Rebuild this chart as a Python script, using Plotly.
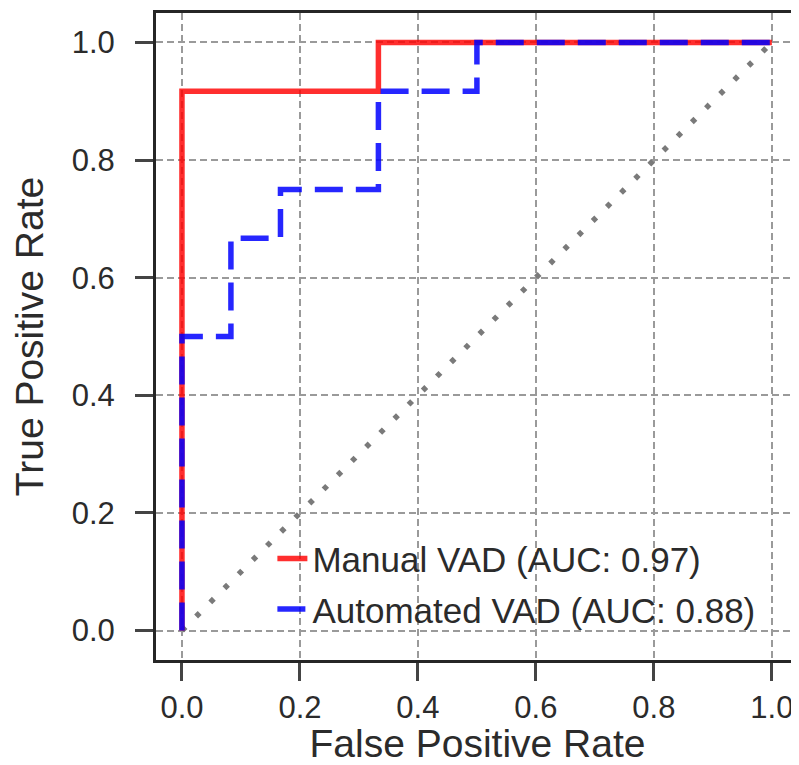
import plotly.graph_objects as go

# Manual VAD ROC curve
manual_fpr = [0.0, 0.0, 0.333, 0.333, 1.0]
manual_tpr = [0.0, 0.917, 0.917, 1.0, 1.0]

# Automated VAD ROC curve
auto_fpr = [0.0, 0.0, 0.083, 0.083, 0.167, 0.167, 0.333, 0.333, 0.5, 0.5, 1.0]
auto_tpr = [0.0, 0.5, 0.5, 0.667, 0.667, 0.75, 0.75, 0.917, 0.917, 1.0, 1.0]

# chance diagonal
diag_x = [0.0, 1.0]
diag_y = [0.0, 1.0]

labels = ["Manual VAD (AUC: 0.97)", "Automated VAD (AUC: 0.88)"]
tick_vals = [0.0, 0.2, 0.4, 0.6, 0.8, 1.0]
tick_text = ["0.0", "0.2", "0.4", "0.6", "0.8", "1.0"]

FONT = "Liberation Sans, Arial, sans-serif"
TXT = "#2b2b2b"

fig = go.Figure()
fig.add_trace(go.Scatter(x=diag_x, y=diag_y, mode="lines",
                         line=dict(color="#7a7a7a", width=5.5, dash="5px,15px"),
                         showlegend=False, hoverinfo="skip"))
fig.add_trace(go.Scatter(x=manual_fpr, y=manual_tpr, mode="lines", name=labels[0],
                         line=dict(color="rgba(255,0,0,0.82)", width=5.5),
                         legendgroup="a"))
fig.add_trace(go.Scatter(x=auto_fpr, y=auto_tpr, mode="lines", name=labels[1],
                         line=dict(color="rgba(0,0,255,0.85)", width=5.5, dash="28px,13px"),
                         legendgroup="b"))

axis_common = dict(
    tickvals=tick_vals, ticktext=tick_text,
    showgrid=True, gridcolor="#9a9a9a", gridwidth=2, griddash="7px,4px",
    zeroline=False, automargin=False,
    showline=True, linecolor="#262626", linewidth=3,
    ticks="outside", ticklen=18, tickwidth=2.5, tickcolor="#444444",
    tickfont=dict(family=FONT, size=31, color=TXT),
)

fig.update_xaxes(range=[-0.044, 1.046], mirror=True,
                 title=dict(text="False Positive Rate", font=dict(family=FONT, size=39, color=TXT), standoff=27),
                 **axis_common)
fig.update_yaxes(range=[-0.05, 1.05], mirror=False, ticklabelstandoff=14,
                 title=dict(text="True Positive Rate", font=dict(family=FONT, size=39, color=TXT), standoff=25),
                 **axis_common)

# the page adds an 8px body margin, so the figure is sized to fill the rest of the window
fig.update_layout(
    width=791, height=757,
    margin=dict(l=148, r=0, t=5, b=105),
    paper_bgcolor="white", plot_bgcolor="white",
    font=dict(family=FONT, color=TXT),
    legend=dict(x=0.181, y=0.202, xanchor="left", yanchor="top",
                bgcolor="rgba(0,0,0,0)", borderwidth=0,
                font=dict(family=FONT, size=35, color=TXT),
                traceorder="grouped", tracegroupgap=2, itemwidth=30),
)

fig.write_html("out.html")
